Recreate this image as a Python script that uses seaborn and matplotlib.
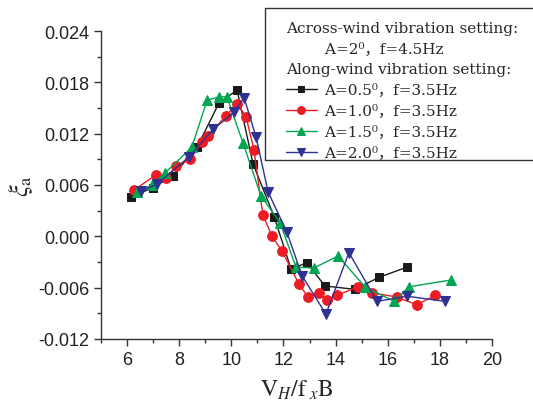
import numpy as np
import pandas as pd
import matplotlib
matplotlib.use("Agg")
import matplotlib.pyplot as plt
import seaborn as sns
from matplotlib.lines import Line2D
from matplotlib.ticker import MultipleLocator, FormatStrFormatter

# Reduced velocity V_H/(f_x B) and aerodynamic damping ratio for each along-wind setting
x_a05 = [6.15, 7.0, 7.76, 8.68, 9.53, 10.22, 10.83, 11.64, 12.29, 12.90, 13.59, 14.74, 15.66, 16.74]
y_a05 = [0.0046, 0.0057, 0.0071, 0.0104, 0.0156, 0.0171, 0.0085, 0.0023, -0.0038, -0.0031, -0.0058, -0.0062, -0.0048, -0.0036]

x_a10 = [6.27, 7.11, 7.49, 7.88, 8.41, 8.87, 9.10, 9.79, 10.22, 10.56, 10.87, 11.21,
         11.56, 11.94, 12.60, 12.94, 13.36, 13.67, 14.05, 14.86, 15.40, 16.35, 17.12, 17.81]
y_a10 = [0.0054, 0.0072, 0.0068, 0.0082, 0.0090, 0.0110, 0.0117, 0.0141, 0.0155, 0.0140, 0.0101, 0.0025,
         0.0000, -0.0017, -0.0056, -0.0071, -0.0066, -0.0074, -0.0069, -0.0059, -0.0066, -0.0071, -0.0080, -0.0069]

x_a15 = [6.38, 6.96, 7.45, 8.48, 9.07, 9.53, 9.83, 10.45, 11.14, 11.87, 12.48, 13.17, 14.09, 15.13, 16.24, 16.81, 18.43]
y_a15 = [0.0052, 0.0060, 0.0074, 0.0104, 0.0159, 0.0163, 0.0163, 0.0109, 0.0047, 0.0016, -0.0036, -0.0037, -0.0023, -0.0059, -0.0076, -0.0059, -0.0051]

x_a20 = [6.53, 7.15, 8.38, 9.30, 10.10, 10.49, 10.95, 11.41, 12.13, 12.71, 13.63, 14.51, 15.59, 16.74, 18.20]
y_a20 = [0.0053, 0.0061, 0.0093, 0.0125, 0.0145, 0.0162, 0.0116, 0.0052, 0.0005, -0.0046, -0.0091, -0.0019, -0.0076, -0.0070, -0.0076]

labels = ["A=0.5⁰，f=3.5Hz", "A=1.0⁰，f=3.5Hz", "A=1.5⁰，f=3.5Hz", "A=2.0⁰，f=3.5Hz"]
header = "Across-wind vibration setting:\n        A=2⁰，f=4.5Hz\nAlong-wind vibration setting:"
x_ticks = [6, 8, 10, 12, 14, 16, 18, 20]
y_ticks = [-0.012, -0.006, 0.000, 0.006, 0.012, 0.018, 0.024]

colors = ["#1a1a1a", "#ED1C24", "#00A651", "#2E3192"]
markers = ["s", "o", "^", "v"]
msizes = [5.5, 7, 7, 7]

sns.set_style("ticks")
plt.rcParams["font.family"] = ["Liberation Sans", "DejaVu Sans"]
plt.rcParams["mathtext.fontset"] = "stix"

fig = plt.figure(figsize=(5.33, 4.06), dpi=100)
ax = fig.add_axes([101 / 533, 1 - 340 / 406, 391 / 533, 308 / 406])

series = [(x_a05, y_a05), (x_a10, y_a10), (x_a15, y_a15), (x_a20, y_a20)]
for (xs, ys), lab, c, m, ms in zip(series, labels, colors, markers, msizes):
    df = pd.DataFrame({"x": xs, "y": ys})
    sns.lineplot(data=df, x="x", y="y", ax=ax, color=c, marker=m, markersize=ms,
                 markeredgecolor=c, linewidth=1.0, label=lab, estimator=None, sort=False)

ax.set_xlim(5, 20)
ax.set_ylim(-0.012, 0.024)
ax.set_xticks(x_ticks)
ax.set_yticks(y_ticks)
ax.xaxis.set_minor_locator(MultipleLocator(1))
ax.yaxis.set_minor_locator(MultipleLocator(0.003))
ax.yaxis.set_major_formatter(FormatStrFormatter("%.3f"))
ax.tick_params(which="major", direction="out", length=5, width=1, color="#333333",
               labelsize=13, labelcolor="#222222")
ax.tick_params(which="minor", direction="out", length=3, width=1, color="#333333")
for s in ["top", "right"]:
    ax.spines[s].set_visible(False)
for s in ["left", "bottom"]:
    ax.spines[s].set_color("#333333")
    ax.spines[s].set_linewidth(1.0)

ax.set_xlabel(r"$\mathrm{V}_{H}/\mathrm{f}_{\ x}\mathrm{B}$", fontsize=17, labelpad=7)
ax.set_ylabel(r"$\xi_{\mathrm{a}}$", fontsize=19, labelpad=2)

# Legend: header lines as the title, series entries below
handles, labs = ax.get_legend_handles_labels()
ax.get_legend().remove()
leg_font = {"family": ["DejaVu Serif", "Noto Sans CJK SC"], "size": 11}
leg = fig.legend(handles, labs, loc="upper left", bbox_to_anchor=(286 / 533, 1 - 22 / 406),
                 bbox_transform=fig.transFigure, frameon=False, borderpad=0, borderaxespad=0,
                 title=header, title_fontproperties=leg_font, prop=leg_font, alignment="left",
                 handlelength=2.0, handletextpad=0.5, labelspacing=0.45, markerscale=0.8)
leg.get_title().set_linespacing(1.6)

# Open frame around the legend: top and bottom edges run to the figure edge
x0, x1 = 265 / 533, 1.0
y_top, y_bot = 1 - 9 / 406, 1 - 161 / 406
for xs_f, ys_f in (([x1, x0], [y_top, y_top]), ([x0, x0], [y_top, y_bot]), ([x0, x1], [y_bot, y_bot])):
    fig.add_artist(Line2D(xs_f, ys_f, transform=fig.transFigure, color="#333333", linewidth=1.0))

fig.savefig("out.png", dpi=100)
